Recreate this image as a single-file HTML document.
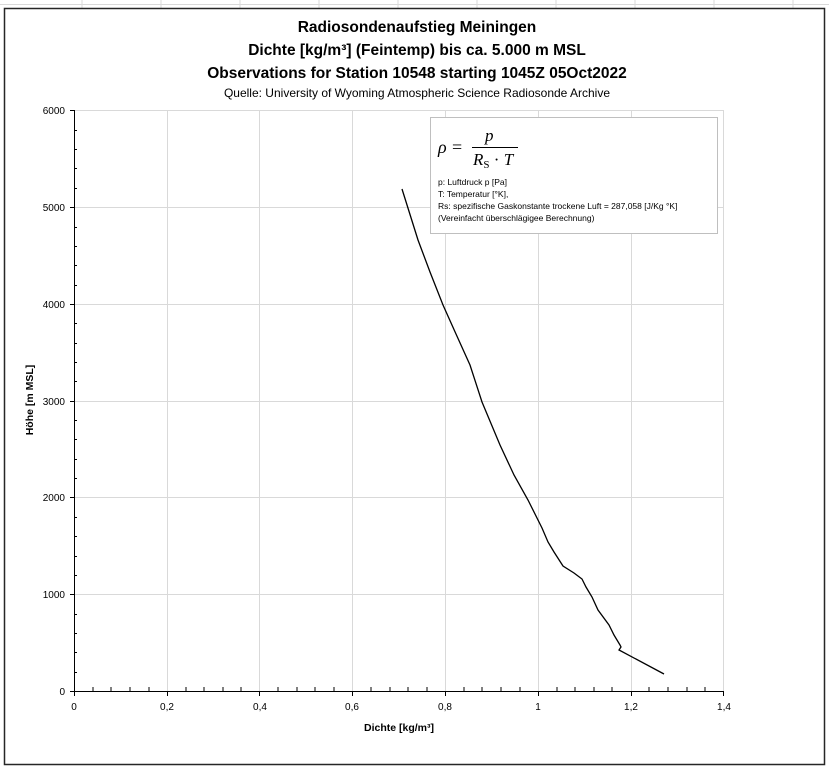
<!DOCTYPE html>
<html><head><meta charset="utf-8"><style>
html,body{margin:0;padding:0;background:#fff;}
svg{display:block;font-family:"Liberation Sans",sans-serif;}
</style></head><body>
<svg width="829" height="768" viewBox="0 0 829 768" xmlns="http://www.w3.org/2000/svg">
<rect width="829" height="768" fill="#fff"/>
<g stroke="#d9d9d9" stroke-width="1">
<line x1="0" y1="4.5" x2="829" y2="4.5"/>
<line x1="82" y1="0" x2="82" y2="10"/><line x1="161" y1="0" x2="161" y2="10"/><line x1="240" y1="0" x2="240" y2="10"/><line x1="319" y1="0" x2="319" y2="10"/><line x1="398" y1="0" x2="398" y2="10"/><line x1="477" y1="0" x2="477" y2="10"/><line x1="556" y1="0" x2="556" y2="10"/><line x1="635" y1="0" x2="635" y2="10"/><line x1="714" y1="0" x2="714" y2="10"/><line x1="793" y1="0" x2="793" y2="10"/>
</g>
<rect x="4.5" y="8.5" width="820" height="756" fill="#fff" stroke="#262626" stroke-width="1.5"/>
<g fill="#000" text-anchor="middle" font-weight="bold" font-size="15.5">
<text x="417" y="32">Radiosondenaufstieg Meiningen</text>
<text x="417" y="55">Dichte [kg/m³] (Feintemp) bis ca. 5.000 m MSL</text>
<text x="417" y="78">Observations for Station 10548 starting 1045Z 05Oct2022</text>
</g>
<text x="417" y="97" text-anchor="middle" font-size="12" fill="#000">Quelle: University of Wyoming Atmospheric Science Radiosonde Archive</text>
<g stroke="#d9d9d9" stroke-width="1">
<line x1="74" y1="110.5" x2="724" y2="110.5"/>
<line x1="74" y1="207.5" x2="724" y2="207.5"/>
<line x1="74" y1="304.5" x2="724" y2="304.5"/>
<line x1="74" y1="401.5" x2="724" y2="401.5"/>
<line x1="74" y1="497.5" x2="724" y2="497.5"/>
<line x1="74" y1="594.5" x2="724" y2="594.5"/>
<line x1="167.5" y1="110" x2="167.5" y2="691"/>
<line x1="259.5" y1="110" x2="259.5" y2="691"/>
<line x1="352.5" y1="110" x2="352.5" y2="691"/>
<line x1="445.5" y1="110" x2="445.5" y2="691"/>
<line x1="538.5" y1="110" x2="538.5" y2="691"/>
<line x1="631.5" y1="110" x2="631.5" y2="691"/>
<line x1="723.5" y1="110" x2="723.5" y2="691"/>
</g>
<g stroke="#000" stroke-width="1">
<line x1="74.5" y1="110" x2="74.5" y2="691"/>
<line x1="74" y1="691.5" x2="724" y2="691.5"/>
<line x1="70" y1="110.5" x2="74" y2="110.5"/><line x1="70" y1="207.5" x2="74" y2="207.5"/><line x1="70" y1="304.5" x2="74" y2="304.5"/><line x1="70" y1="401.5" x2="74" y2="401.5"/><line x1="70" y1="497.5" x2="74" y2="497.5"/><line x1="70" y1="594.5" x2="74" y2="594.5"/><line x1="70" y1="691.5" x2="74" y2="691.5"/>
<path d="M74 130.5h3M74 149.5h3M74 168.5h3M74 188.5h3M74 227.5h3M74 246.5h3M74 265.5h3M74 285.5h3M74 323.5h3M74 343.5h3M74 362.5h3M74 381.5h3M74 420.5h3M74 439.5h3M74 459.5h3M74 478.5h3M74 517.5h3M74 536.5h3M74 556.5h3M74 575.5h3M74 614.5h3M74 633.5h3M74 652.5h3M74 672.5h3"/>
</g>
<path stroke="#000" stroke-width="1" d="
M74.5 691v5 M167.5 691v5 M259.5 691v5 M352.5 691v5 M445.5 691v5 M538.5 691v5 M631.5 691v5 M723.5 691v5
M93 691v-4 M111 691v-4 M130 691v-4 M149 691v-4
M186 691v-4 M204 691v-4 M223 691v-4 M241 691v-4
M278 691v-4 M297 691v-4 M315 691v-4 M334 691v-4
M371 691v-4 M390 691v-4 M408 691v-4 M427 691v-4
M464 691v-4 M482 691v-4 M501 691v-4 M520 691v-4
M557 691v-4 M575 691v-4 M594 691v-4 M612 691v-4
M649 691v-4 M668 691v-4 M687 691v-4 M705 691v-4"/>
<g font-size="10" fill="#000" text-anchor="end">
<text x="65" y="114">6000</text><text x="65" y="211">5000</text><text x="65" y="308">4000</text><text x="65" y="405">3000</text><text x="65" y="501">2000</text><text x="65" y="598">1000</text><text x="65" y="695">0</text>
</g>
<g font-size="10" fill="#000" text-anchor="middle">
<text x="74" y="710">0</text><text x="167" y="710">0,2</text><text x="260" y="710">0,4</text><text x="352" y="710">0,6</text><text x="445" y="710">0,8</text><text x="538" y="710">1</text><text x="631" y="710">1,2</text><text x="724" y="710">1,4</text>
</g>
<text x="399" y="731" text-anchor="middle" font-size="10.5" font-weight="bold">Dichte [kg/m³]</text>
<text transform="translate(33,400) rotate(-90)" text-anchor="middle" font-size="10.5" font-weight="bold">Höhe [m MSL]</text>
<polyline fill="none" stroke="#000" stroke-width="1.3" points="402,189 418,240 430,272 443,305 456,334 470,365 482,402 500,445 514,475 528,500 542,528 548,542 554,552 563,566 574,573 582,579 586,587 592,597 598,610 609,625 614,635 620,645 621,647 619,650 664,674"/>
<rect x="430.5" y="117.5" width="287" height="116" fill="#fff" stroke="#bfbfbf" stroke-width="1"/>
<g font-family="'Liberation Serif',serif" font-style="italic" fill="#000">
<text x="438" y="153" font-size="18">ρ</text>
<text x="452" y="153" font-size="18" font-style="normal">=</text>
<text x="485" y="141" font-size="17">p</text>
<line x1="472" y1="147.5" x2="518" y2="147.5" stroke="#000" stroke-width="1"/>
<text x="473" y="165" font-size="17">R<tspan font-size="11" font-style="normal" dy="3">S</tspan><tspan dy="-3" font-style="normal"> · </tspan>T</text>
</g>
<g font-size="8.5" fill="#000">
<text x="438" y="185">p: Luftdruck p [Pa]</text>
<text x="438" y="197">T: Temperatur [°K],</text>
<text x="438" y="209">Rs: spezifische Gaskonstante trockene Luft = 287,058 [J/Kg °K]</text>
<text x="438" y="221">(Vereinfacht überschlägigee Berechnung)</text>
</g>
</svg>
</body></html>
